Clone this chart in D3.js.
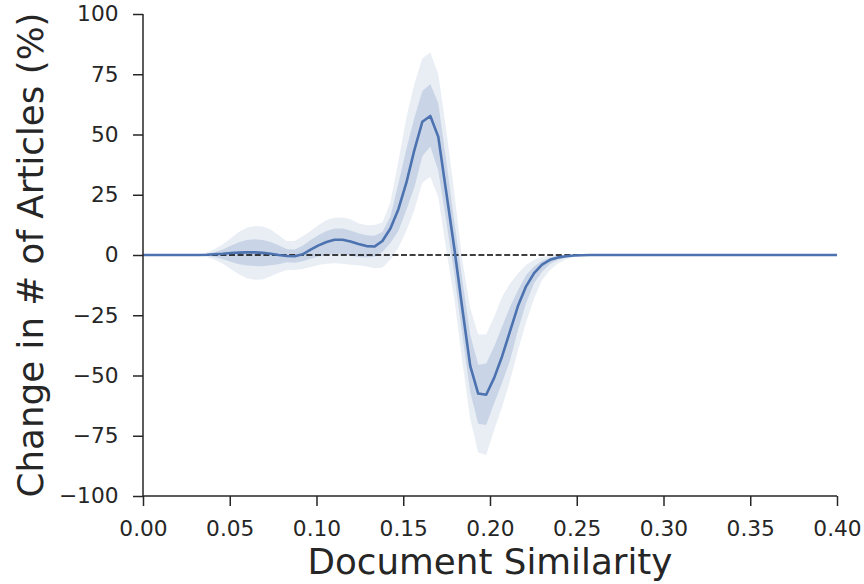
<!DOCTYPE html>
<html>
<head>
<meta charset="utf-8">
<script src="https://cdn.jsdelivr.net/npm/d3@7"></script>
<style>
  html, body { margin: 0; padding: 0; background: #ffffff; }
  svg { display: block; }
  text { font-family: "DejaVu Sans", sans-serif; fill: #262626; }
</style>
</head>
<body>
<svg id="chart" width="864" height="584"></svg>
<script>
// ---- data ----
const similarity = [0.0000, 0.0230, 0.0276, 0.0322, 0.0368, 0.0414, 0.0460, 0.0506, 0.0552, 0.0598,
  0.0644, 0.0690, 0.0736, 0.0782, 0.0828, 0.0874, 0.0920, 0.0966, 0.1012, 0.1058,
  0.1104, 0.1150, 0.1196, 0.1242, 0.1288, 0.1334, 0.1380, 0.1426, 0.1472, 0.1518,
  0.1564, 0.1610, 0.1656, 0.1702, 0.1748, 0.1794, 0.1840, 0.1886, 0.1932, 0.1978,
  0.2024, 0.2070, 0.2116, 0.2162, 0.2208, 0.2254, 0.2300, 0.2346, 0.2392, 0.2438,
  0.2484, 0.2530, 0.2576, 0.4000];
const meanChange = [0, 0, 0, 0, 0.1, 0.3, 0.5, 0.8, 1.0, 1.1,
  1.1, 0.9, 0.5, 0, -0.4, -0.5, 0.3, 2.2, 4.0, 5.4,
  6.3, 6.3, 5.6, 4.6, 3.7, 3.5, 5.8, 11, 19, 30,
  43.5, 55.3, 57.7, 49, 26, 3, -22, -46, -57.5, -58,
  -51, -42, -31.5, -21, -13, -7.5, -4, -2, -1, -0.5,
  -0.2, -0.1, 0, 0];
const innerUpper = [0, 0, 0, 0.1, 0.5, 1.2, 2.3, 3.8, 5.3, 6.2,
  6.5, 6.2, 5.4, 4.0, 2.5, 2.3, 3.8, 6.2, 8.3, 10,
  11, 11, 10.2, 9, 8.2, 8, 9.5, 16, 29.7, 44,
  57, 68, 71, 63, 39, 14, -10, -33, -45.5, -45,
  -38, -29.7, -21.4, -14.5, -8.3, -4.8, -2.4, -1, -0.4, -0.2,
  0, 0, 0, 0];
const innerLower = [0, 0, 0, -0.1, -0.3, -0.8, -1.8, -2.8, -3.8, -4.4,
  -4.6, -4.7, -4.3, -3.8, -3.0, -3.2, -2.6, -1.6, -0.6, 0,
  0.5, 0.4, -0.2, -0.8, -1.0, -0.7, 1.2, 5, 10, 18.7,
  28, 41, 45, 35, 14, -8, -33, -57, -70, -70.5,
  -61.5, -53, -43.6, -31, -20, -11.7, -6.9, -3.7, -2, -1,
  -0.5, -0.2, 0, 0];
const outerUpper = [0, 0, 0, 0.3, 1.0, 2.5, 4.5, 7, 9.5, 11.3,
  12, 11.8, 10.6, 8.2, 5.8, 5.8, 7.8, 10, 12.5, 14.5,
  15.5, 15.6, 14.8, 13.2, 12.3, 12.4, 13.5, 22, 39, 57,
  71, 81.6, 84, 75, 52, 26, -2, -22, -33, -33,
  -25.6, -17.3, -11.7, -7.6, -4.1, -2, -0.7, -0.3, 0, 0,
  0, 0, 0, 0];
const outerLower = [0, 0, 0, -0.3, -0.8, -2, -3.6, -5.8, -8, -9.6,
  -10.3, -10.2, -8.8, -7.4, -6.2, -6.2, -5.8, -5, -4.2, -3.6,
  -3.4, -3.6, -4, -4.3, -4.8, -5.5, -5.2, -2, 3, 10,
  18.7, 30, 32.5, 24, 2, -18, -44, -68, -82, -83,
  -72.6, -63, -52, -39.4, -28, -18, -10.4, -6.2, -3.5, -1.8,
  -0.8, -0.3, 0, 0];
const xTicks = [0.00, 0.05, 0.10, 0.15, 0.20, 0.25, 0.30, 0.35, 0.40];
const yTicks = [-100, -75, -50, -25, 0, 25, 50, 75, 100];
const xLabel = "Document Similarity";
const yLabel = "Change in # of Articles (%)";

// ---- layout ----
const mLeft = 143, mRight = 837, mTop = 14, mBottom = 496;
const ink = "#262626", blue = "#4c72b0";

const svg = d3.select("#chart");
const x = d3.scaleLinear().domain([0, 0.4]).range([mLeft, mRight]);
const y = d3.scaleLinear().domain([-100, 100]).range([mBottom, mTop]);

const rows = similarity.map((s, i) => ({
  s, m: meanChange[i], iu: innerUpper[i], il: innerLower[i], ou: outerUpper[i], ol: outerLower[i]
}));

const curve = d3.curveLinear;
svg.append("path")
  .attr("d", d3.area().curve(curve).x(d => x(d.s)).y0(d => y(d.ol)).y1(d => y(d.ou))(rows))
  .attr("fill", blue).attr("fill-opacity", 0.12);
svg.append("path")
  .attr("d", d3.area().curve(curve).x(d => x(d.s)).y0(d => y(d.il)).y1(d => y(d.iu))(rows))
  .attr("fill", blue).attr("fill-opacity", 0.2);

// zero reference line
svg.append("line")
  .attr("x1", x(0)).attr("x2", x(0.4)).attr("y1", y(0)).attr("y2", y(0))
  .attr("stroke", "#000").attr("stroke-width", 1.6).attr("stroke-dasharray", "6,2.6");

svg.append("path")
  .attr("d", d3.line().curve(curve).x(d => x(d.s)).y(d => y(d.m))(rows))
  .attr("fill", "none").attr("stroke", blue).attr("stroke-width", 2.6)
  .attr("stroke-linejoin", "round").attr("stroke-linecap", "butt");

// axes
const xAxis = svg.append("g").attr("transform", `translate(0,${mBottom})`)
  .call(d3.axisBottom(x).tickValues(xTicks).tickFormat(d3.format(".2f")).tickSize(10).tickPadding(14.5));
const yAxis = svg.append("g").attr("transform", `translate(${mLeft},0)`)
  .call(d3.axisLeft(y).tickValues(yTicks).tickFormat(d => d < 0 ? "\u2212" + Math.abs(d) : d).tickSize(10).tickPadding(14.5));

[xAxis, yAxis].forEach(g => {
  g.select(".domain").attr("stroke", ink).attr("stroke-width", 1.5);
  g.selectAll(".tick line").attr("stroke", ink).attr("stroke-width", 1.5);
  g.selectAll(".tick text").attr("font-size", 21.7).attr("fill", ink)
    .attr("font-family", "DejaVu Sans, sans-serif");
});
xAxis.select(".domain").attr("d", `M${mLeft},0H${mRight}`);
yAxis.select(".domain").attr("d", `M0,${mTop}V${mBottom}`);

svg.append("text")
  .attr("x", (mLeft + mRight) / 2).attr("y", 574)
  .attr("text-anchor", "middle").attr("font-size", 35.7)
  .text(xLabel);
svg.append("text")
  .attr("transform", `translate(43,${(mTop + mBottom) / 2}) rotate(-90)`)
  .attr("text-anchor", "middle").attr("font-size", 35.7)
  .text(yLabel);
</script>
</body>
</html>
